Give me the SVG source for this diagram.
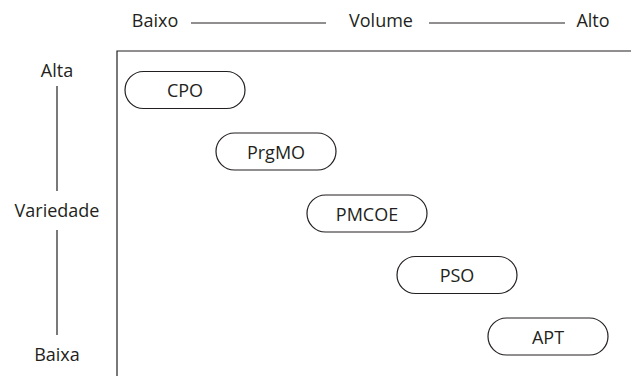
<svg xmlns="http://www.w3.org/2000/svg" width="631" height="376" viewBox="0 0 631 376">
<style>
text{font-family:"Open Sans","Noto Sans",sans-serif;font-size:18px;fill:#231f20;text-anchor:middle}
.ln{stroke:#231f20;stroke-width:1.2;fill:none}
.pill{fill:#fff;stroke:#231f20;stroke-width:1.2}
</style>
<rect width="631" height="376" fill="#fff"/>
<g id="axes">
<path class="ln" d="M117,376V51H631"/>
<text x="155" y="27">Baixo</text>
<line class="ln" x1="191" y1="23" x2="326" y2="23"/>
<text x="381" y="27">Volume</text>
<line class="ln" x1="429" y1="23" x2="565" y2="23"/>
<text x="593" y="27">Alto</text>
<text x="57" y="77">Alta</text>
<line class="ln" x1="57" y1="86" x2="57" y2="191"/>
<text x="57" y="217">Variedade</text>
<line class="ln" x1="57" y1="230" x2="57" y2="335"/>
<text x="57" y="361">Baixa</text>
</g>
<g id="CPO"><rect class="pill" x="125" y="71.5" width="120" height="37" rx="18.5"/><text x="185" y="97">CPO</text></g>
<g id="PrgMO"><rect class="pill" x="216" y="133" width="120" height="37" rx="18.5"/><text x="276" y="158.5">PrgMO</text></g>
<g id="PMCOE"><rect class="pill" x="307" y="195" width="120" height="37" rx="18.5"/><text x="367" y="220.5">PMCOE</text></g>
<g id="PSO"><rect class="pill" x="397" y="256.5" width="120" height="37" rx="18.5"/><text x="457" y="282">PSO</text></g>
<g id="APT"><rect class="pill" x="488" y="318" width="120" height="37" rx="18.5"/><text x="548" y="343.5">APT</text></g>
<g id="connectors"/>
</svg>
